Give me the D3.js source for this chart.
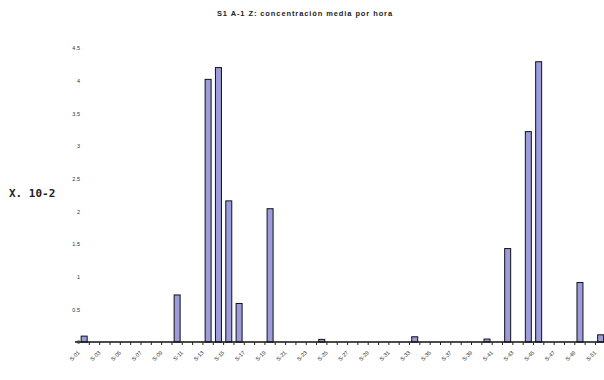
<!DOCTYPE html>
<html>
<head>
<meta charset="utf-8">
<script src="https://cdn.jsdelivr.net/npm/d3@7"></script>
<style>
  body { margin: 0; background: #fff; }
  svg { display: block; }
</style>
</head>
<body>
<figure id="bar" style="margin:0"></figure>
<script>
// chart data
const title = "S1 A-1 Z: concentración media por hora";
const yTitle = "X. 10-2";
const categories = [
  "S-01","S-02","S-03","S-04","S-05","S-06","S-07","S-08","S-09","S-10",
  "S-11","S-12","S-13","S-14","S-15","S-16","S-17","S-18","S-19","S-20",
  "S-21","S-22","S-23","S-24","S-25","S-26","S-27","S-28","S-29","S-30",
  "S-31","S-32","S-33","S-34","S-35","S-36","S-37","S-38","S-39","S-40",
  "S-41","S-42","S-43","S-44","S-45","S-46","S-47","S-48","S-49","S-50",
  "S-51"
];
const values = [
  0.09, 0, 0, 0, 0, 0, 0, 0, 0, 0.72,
  0, 0, 4.02, 4.2, 2.16, 0.59, 0, 0, 2.04, 0,
  0, 0, 0, 0.04, 0, 0, 0, 0, 0, 0,
  0, 0, 0.08, 0, 0, 0, 0, 0, 0, 0.045,
  0, 1.43, 0, 3.22, 4.29, 0, 0, 0, 0.91, 0,
  0.11
];
const yTicks = [0, 0.5, 1, 1.5, 2, 2.5, 3, 3.5, 4, 4.5];
const yTickLabels = ["0", "0.5", "1", "1.5", "2", "2.5", "3", "3.5", "4", "4.5"];

const width = 604, height = 380;
const plotLeft = 79, plotRight = 605.8, plotBase = 342, plotTop = 48;

const svg = d3.select("figure#bar")
  .append("svg")
  .attr("width", width)
  .attr("height", height);

// title
svg.append("text")
  .attr("x", 305).attr("y", 16)
  .attr("text-anchor", "middle")
  .style("font-family", "Liberation Sans, Arial, sans-serif")
  .style("font-size", "7.5px")
  .style("letter-spacing", "0.9px")
  .style("font-weight", "bold")
  .style("fill", "#222")
  .text(title);

// y axis title
svg.append("text")
  .attr("x", 9).attr("y", 197)
  .style("font-family", "DejaVu Sans Mono, monospace")
  .style("font-size", "11px")
  .style("font-weight", "bold")
  .style("fill", "#222")
  .text(yTitle);

const x = d3.scaleBand()
  .domain(categories)
  .range([plotLeft, plotRight])
  .padding(0);

const y = d3.scaleLinear()
  .domain([0, 4.5])
  .range([plotBase, plotTop]);

// y tick labels only, no axis line
const yAxis = svg.append("g")
  .attr("transform", "translate(80,0)")
  .call(d3.axisLeft(y).tickValues(yTicks).tickSize(0).tickPadding(0)
    .tickFormat((d, i) => yTickLabels[i]));
yAxis.select(".domain").remove();
yAxis.selectAll("text")
  .style("font-family", "Liberation Sans, Arial, sans-serif")
  .style("font-size", "5.5px")
  .style("fill", "#333");

// bars
const barW = x.bandwidth() * 0.58;
svg.selectAll("rect.bar")
  .data(values.map((v, i) => ({ c: categories[i], v: v })).filter(d => d.v > 0))
  .enter()
  .append("rect")
  .attr("class", "bar")
  .attr("x", d => x(d.c) + (x.bandwidth() - barW) / 2)
  .attr("y", d => y(d.v))
  .attr("width", barW)
  .attr("height", d => plotBase - y(d.v))
  .style("fill", "#9c9cdc")
  .style("stroke", "#111")
  .style("stroke-width", 1);

// x axis line with ticks between categories
const xg = svg.append("g").attr("transform", "translate(0," + plotBase + ")");
xg.append("line")
  .attr("x1", 75).attr("x2", width)
  .attr("y1", 0).attr("y2", 0)
  .style("stroke", "#111")
  .style("stroke-width", 1.6);
xg.selectAll("line.tick")
  .data(categories.slice(0, -1))
  .enter()
  .append("line")
  .attr("class", "tick")
  .attr("x1", d => x(d) + x.bandwidth())
  .attr("x2", d => x(d) + x.bandwidth())
  .attr("y1", 0).attr("y2", 3)
  .style("stroke", "#222")
  .style("stroke-width", 1);

// rotated category labels on every other category
xg.selectAll("text")
  .data(categories.filter((d, i) => i % 2 === 0))
  .enter()
  .append("text")
  .attr("transform", d => "translate(" + (x(d) + x.bandwidth() / 2 - 4) + ",11)rotate(-45)")
  .attr("text-anchor", "end")
  .style("font-family", "Liberation Sans, Arial, sans-serif")
  .style("font-size", "5.5px")
  .style("fill", "#222")
  .text(d => d);
</script>
</body>
</html>
